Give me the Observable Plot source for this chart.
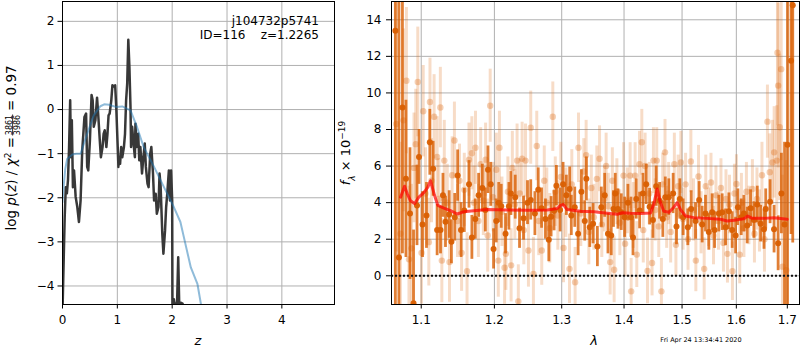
<!DOCTYPE html>
<html><head><meta charset="utf-8">
<script src="https://cdn.jsdelivr.net/npm/d3@7"></script>
<script src="https://cdn.jsdelivr.net/npm/@observablehq/plot@0.6"></script>
<style>
body{margin:0;background:#fff;}
#wrap{position:relative;width:800px;height:350px;overflow:hidden;background:#fff;}
#left,#right{position:absolute;top:0;}
#left{left:0;} #right{left:340px;}
</style></head><body>
<div id="wrap"><div id="left"></div><div id="right"></div></div>
<script>
// ---------------- left panel: p(z) ----------------
const zTicks = [0, 1, 2, 3, 4];
const logpTicks = [-4, -3, -2, -1, 0, 1, 2];
// dark jagged curve [z, log p]
const pzChi = [
[0.0,-4.6],[0.01,-4.03],[0.04,-2.44],[0.06,-1.76],[0.08,-1.9],[0.10,-1.6],[0.12,-0.85],[0.14,0.21],
[0.155,-1.08],[0.17,-0.24],[0.19,-1.76],[0.21,-1.38],[0.24,-1.98],[0.27,-2.21],[0.30,-2.55],[0.33,-2.06],
[0.36,-0.92],[0.38,-0.55],[0.40,-0.17],[0.43,-0.09],[0.45,-1.3],[0.47,-1.38],[0.50,-0.7],[0.53,0.33],
[0.55,0.21],[0.57,-0.39],[0.60,-0.24],[0.63,0.27],[0.65,-0.09],[0.68,-0.7],[0.70,-1.08],[0.73,-0.85],
[0.75,-0.55],[0.77,-0.47],[0.80,-0.85],[0.82,-0.55],[0.84,-0.13],[0.86,-0.09],[0.89,0.21],[0.91,0.55],
[0.94,0.52],[0.96,0.55],[0.98,0.06],[1.00,-0.62],[1.02,-1.3],[1.03,-1.08],[1.05,-1.23],[1.07,-0.85],
[1.09,-1.08],[1.12,-0.85],[1.14,-0.55],[1.16,0.21],[1.18,0.59],[1.20,1.58],[1.22,0.97],[1.24,0.06],
[1.25,-0.85],[1.27,-0.39],[1.29,-0.7],[1.32,-1.08],[1.33,-0.32],[1.35,-0.85],[1.38,-0.55],[1.40,-1.15],
[1.42,-0.85],[1.45,-1.45],[1.47,-1.15],[1.50,-0.77],[1.52,-1.3],[1.55,-1.68],[1.57,-1.76],[1.60,-1.0],
[1.62,-0.85],[1.65,-1.45],[1.67,-2.06],[1.70,-1.91],[1.72,-2.36],[1.75,-2.21],[1.77,-1.45],[1.79,-1.76],
[1.82,-2.82],[1.84,-3.27],[1.87,-2.74],[1.89,-2.21],[1.91,-1.91],[1.94,-1.38],[1.96,-2.06],[1.98,-1.38],
[2.00,-2.06],[2.005,-4.6],[2.03,-4.3],[2.06,-4.55],[2.09,-4.35],[2.11,-3.35],[2.13,-4.5],[2.16,-4.38],
[2.19,-4.4],[2.21,-4.7]
];
// smooth blue curve [z, log p]
const pzPrior = [
[0.0,-2.1],[0.02,-1.75],[0.05,-1.35],[0.085,-1.12],[0.18,-1.02],[0.25,-1.0],[0.33,-1.0],[0.45,-0.55],
[0.57,-0.13],[0.69,0.075],[0.76,0.12],[0.85,0.11],[0.97,0.06],[1.09,0.07],[1.24,-0.02],[1.36,-0.4],
[1.48,-0.85],[1.67,-1.3],[1.85,-1.76],[2.03,-2.21],[2.15,-2.55],[2.24,-3.04],[2.34,-3.58],[2.46,-3.95],[2.53,-4.45]
];
const objName = "j104732p5741";
const objLine = "ID=116    z=1.2265";
const chi2Num = "3861", chi2Den = "3986", chi2Val = "0.97";

// ---------------- right panel: spectrum ----------------
const lamTicks = [1.1, 1.2, 1.3, 1.4, 1.5, 1.6, 1.7];
const fluxTicks = [0, 2, 4, 6, 8, 10, 12, 14];
// strong points [lambda, flux, err]
const specMain = [
[1.0667,13.4,16],[1.0712,1.0,14],[1.0757,9.2,8],[1.0802,5.3,4.3],[1.0854,3.4,3.6],[1.0900,-1.5,4],
[1.0945,3.85,2.2],[1.0971,6.5,1.5],[1.1017,2.8,1.8],[1.1069,3.3,1.8],[1.1113,7.3,1.8],[1.1157,5.85,1.5],
[1.1210,2.5,1.4],[1.1255,2.5,1.3],[1.1288,4.4,1.2],[1.1322,2.95,1.4],[1.1372,3.35,1.3],[1.1402,1.86,1.2],
[1.1447,3.2,1.3],[1.1487,5.48,1.4],[1.1533,2.5,1.5],[1.1578,3.57,1.2],[1.1643,5.0,1.3],[1.1683,2.1,1.2],
[1.1731,3.1,1.1],[1.1777,4.4,1.2],[1.1829,4.8,1.3],[1.1871,3.6,1.2],[1.1909,5.8,1.3],[1.1948,5.0,1.2],
[1.1988,1.47,1.1],[1.2026,3.0,1.2],[1.2062,4.0,1.1],[1.2098,3.8,1.2],[1.2160,2.3,1.1],[1.2209,3.8,1.3],
[1.2238,4.5,1.2],[1.2301,4.3,1.2],[1.2364,2.6,1.1],[1.2423,3.15,1.2],[1.2482,4.0,1.2],[1.2530,4.15,1.1],
[1.2592,3.4,1.2],[1.2642,4.7,1.2],[1.2692,3.7,1.1],[1.2751,3.1,1.1],[1.2802,1.97,1.2],[1.2837,3.23,1.1],
[1.2883,3.56,1.1],[1.2918,4.93,1.1],[1.2975,3.6,1.2],[1.3021,5.0,1.2],[1.3072,4.4,1.1],[1.3124,4.75,1.2],
[1.3149,3.3,1.1],[1.3203,3.75,1.1],[1.3256,2.3,1.2],[1.3308,4.6,1.2],[1.3361,3.0,1.1],[1.3387,5.3,1.2],
[1.3441,2.65,1.1],[1.3494,2.85,1.1],[1.3563,1.6,1.1],[1.3627,3.75,1.1],[1.3682,4.4,1.2],[1.3735,2.3,1.1],
[1.3789,2.2,1.1],[1.3825,3.65,1.0],[1.3855,4.5,1.1],[1.3899,3.65,1.1],[1.3954,3.48,1.0],[1.4010,3.2,1.1],
[1.4065,4.0,1.0],[1.4116,3.2,1.1],[1.4150,2.1,1.0],[1.4205,4.2,1.1],[1.4262,3.57,1.0],[1.4318,4.5,1.1],
[1.4374,5.0,1.1],[1.4432,3.78,1.0],[1.4489,3.05,1.0],[1.4546,4.9,1.1],[1.4604,4.1,1.0],[1.4661,3.1,1.0],
[1.4704,4.3,1.1],[1.4766,4.3,1.0],[1.4842,4.5,1.1],[1.4901,2.7,1.0],[1.4960,4.2,1.1],[1.5019,3.2,1.0],
[1.5103,2.65,1.0],[1.5163,3.65,1.0],[1.5243,3.0,1.0],[1.5308,4.15,1.0],[1.5363,2.8,1.0],[1.5424,3.4,1.0],
[1.5485,2.4,1.0],[1.5546,3.48,1.0],[1.5591,2.5,1.0],[1.5671,3.4,1.0],[1.5733,3.48,1.0],[1.5796,2.65,1.0],
[1.5859,3.53,1.0],[1.5921,2.5,1.0],[1.5986,2.2,1.0],[1.6030,3.75,1.0],[1.6093,3.2,1.0],[1.6144,3.4,1.0],
[1.6208,2.75,1.0],[1.6273,3.7,1.0],[1.6338,3.05,1.0],[1.6403,3.9,1.0],[1.6469,2.85,1.0],[1.6535,2.55,1.1],
[1.6569,3.65,1.1],[1.6655,4.05,1.2],[1.6734,2.55,1.3],[1.6815,1.78,1.5],[1.6881,4.5,2.2],[1.6944,2.8,4.5],
[1.7004,7.17,9],[1.7076,11.76,9.5],[1.7110,14.8,13]
];
// faint points [lambda, flux, err]
const specFaint = [
[1.0679,8.3,7],[1.0731,2.3,5],[1.0770,8.5,5],[1.0808,10.67,4],[1.0841,0.9,4],[1.0873,1.5,3.5],
[1.0906,5.9,3],[1.0929,7.2,3],[1.0955,10.6,3],[1.1004,1.25,2.8],[1.1026,9.0,2.5],[1.1056,4.5,2.5],
[1.1100,1.84,2.4],[1.1115,9.5,2.4],[1.1135,5.2,2.3],[1.1170,8.7,2.3],[1.1210,6.5,2.2],[1.1233,4.2,2.2],
[1.1253,9.2,2.2],[1.1273,0.83,2.3],[1.1306,6.3,2.2],[1.1346,4.0,2.1],[1.1376,0.75,2.2],[1.1412,5.5,2.1],
[1.1443,7.4,2.1],[1.1485,3.0,2.0],[1.1512,5.2,2.0],[1.1541,1.25,2.1],[1.1578,4.7,2.0],[1.1616,0.25,2.1],
[1.1643,6.35,2.0],[1.1683,6.7,2.0],[1.1713,4.0,2.0],[1.1733,7.0,2.0],[1.1774,3.0,2.0],[1.1806,6.1,2.0],
[1.1843,4.1,1.9],[1.1875,6.35,2.0],[1.1905,2.2,2.0],[1.1940,9.3,2.0],[1.1981,4.3,1.9],[1.2027,5.8,2.0],
[1.2056,0.83,2.0],[1.2072,7.0,2.0],[1.2108,3.5,1.9],[1.2146,0.44,2.0],[1.2165,1.2,2.0],[1.2194,4.6,1.9],
[1.2241,0.57,2.0],[1.2259,5.9,2.0],[1.2295,3.9,1.9],[1.2328,6.3,2.0],[1.2346,-1.4,2.0],[1.2368,4.5,1.9],
[1.2402,6.4,2.0],[1.2427,2.5,1.9],[1.2452,6.3,2.0],[1.2496,1.38,2.0],[1.2530,8.1,2.0],[1.2570,0.1,2.0],
[1.2620,7.1,1.9],[1.2650,3.0,1.9],[1.2695,1.38,1.9],[1.2733,5.2,1.9],[1.2771,4.0,1.9],[1.2817,2.6,1.9],
[1.2863,8.7,1.9],[1.2901,4.6,1.9],[1.2940,3.3,1.9],[1.2986,5.4,1.9],[1.3028,1.52,1.9],[1.3064,4.0,1.9],
[1.3121,0.38,1.9],[1.3157,5.0,1.9],[1.3209,-0.35,1.9],[1.3262,7.0,1.9],[1.3298,3.4,1.8],[1.3346,5.7,1.8],
[1.3383,6.6,1.9],[1.3426,2.4,1.8],[1.3466,4.8,1.8],[1.3506,3.2,1.8],[1.3554,5.3,1.8],[1.3598,6.4,1.8],
[1.3635,2.8,1.8],[1.3676,4.2,1.8],[1.3705,6.0,1.8],[1.3741,3.8,1.8],[1.3771,0.75,1.8],[1.3807,5.2,1.8],
[1.3836,0.33,1.8],[1.3881,4.6,1.8],[1.3930,2.9,1.8],[1.3992,5.48,1.8],[1.4018,1.75,1.8],[1.4055,4.1,1.8],
[1.4102,5.48,1.8],[1.4119,-0.85,1.8],[1.4155,3.3,1.8],[1.4186,5.48,1.8],[1.4214,1.16,1.8],[1.4260,6.1,1.8],
[1.4299,7.3,1.8],[1.4324,2.5,1.8],[1.4355,6.0,1.8],[1.4396,0.27,1.8],[1.4426,4.5,1.7],[1.4474,0.7,1.8],
[1.4498,6.3,1.8],[1.4529,3.6,1.7],[1.4555,6.3,1.8],[1.4590,2.7,1.7],[1.4636,-0.85,1.8],[1.4659,5.0,1.7],
[1.4699,6.75,1.8],[1.4728,3.2,1.7],[1.4763,4.5,1.7],[1.4798,2.4,1.7],[1.4863,6.1,1.7],[1.4891,1.7,1.7],
[1.4930,4.9,1.7],[1.4979,6.2,1.7],[1.5018,3.1,1.7],[1.5063,5.0,1.7],[1.5107,2.0,1.7],[1.5158,6.25,1.7],
[1.5206,3.6,1.7],[1.5248,0.83,1.7],[1.5296,5.43,1.7],[1.5342,2.9,1.7],[1.5400,0.38,1.7],[1.5429,4.9,1.7],
[1.5479,3.2,1.6],[1.5525,5.1,1.6],[1.5571,2.2,1.6],[1.5617,4.4,1.6],[1.5664,3.0,1.6],[1.5710,4.8,1.6],
[1.5757,1.8,1.6],[1.5804,4.2,1.6],[1.5832,1.2,1.6],[1.5870,3.9,1.6],[1.5926,0.25,1.6],[1.5964,4.5,1.6],
[1.6002,5.02,1.6],[1.6065,1.16,1.6],[1.6097,4.0,1.6],[1.6145,2.6,1.6],[1.6193,4.6,1.6],[1.6241,3.3,1.6],
[1.6309,4.75,1.6],[1.6348,2.3,1.6],[1.6397,4.2,1.7],[1.6446,3.0,1.7],[1.6495,5.5,1.8],[1.6544,2.0,1.8],
[1.6603,8.43,2.0],[1.6649,5.66,2.1],[1.6702,6.2,2.3],[1.6736,6.75,2.5],[1.6788,6.3,3.0],[1.6802,12.2,4],
[1.6816,10.4,4.5],[1.6848,8.12,4],[1.6876,11.3,5],[1.6902,0.5,5],[1.6978,0.3,6]
];
// model curve [lambda, flux]
const specModel = [
[1.0733,4.3],[1.0784,4.9],[1.0818,4.5],[1.0861,4.1],[1.0913,3.95],[1.0969,4.3],[1.1034,4.55],[1.1087,4.85],
[1.1122,5.2],[1.1175,4.4],[1.1219,3.85],[1.1300,3.7],[1.1390,3.56],[1.1481,3.38],[1.1572,3.5],[1.1710,3.56],
[1.1898,3.62],[1.2184,3.6],[1.2478,3.58],[1.2778,3.6],[1.2931,3.68],[1.2982,3.85],[1.3023,3.9],[1.3085,3.62],
[1.3294,3.53],[1.3506,3.5],[1.3723,3.42],[1.3887,3.36],[1.3970,3.45],[1.4108,3.42],[1.4277,3.4],[1.4448,3.44],
[1.4505,3.92],[1.4564,4.75],[1.4609,4.1],[1.4678,3.53],[1.4766,3.47],[1.4854,3.75],[1.4914,4.0],[1.4973,3.62],
[1.5062,3.27],[1.5211,3.18],[1.5456,3.14],[1.5702,3.09],[1.5828,3.0],[1.5952,3.04],[1.6143,3.12],[1.6220,3.27],
[1.6305,3.14],[1.6532,3.14],[1.6729,3.18],[1.6998,3.09]
];
const stamp = "Fri Apr 24 13:34:41 2020";

// ---------------- drawing ----------------
const FONT = "DejaVu Sans, sans-serif";
const minus = d => (d < 0 ? "\u2212" : "") + Math.abs(d);
const gridStyle = {stroke: "#b0b0b0", strokeOpacity: 1, strokeWidth: 1};
const baseStyle = {fontFamily: FONT, fontSize: "12px", color: "black", background: "transparent", overflow: "visible"};

const leftSvg = Plot.plot({
  width: 340, height: 350,
  marginLeft: 62, marginRight: 6, marginTop: 1, marginBottom: 46,
  style: baseStyle,
  x: {domain: [0, 4.96], ticks: zTicks, tickFormat: minus, tickSize: 4.5, tickPadding: 6, label: null},
  y: {domain: [-4.42, 2.45], ticks: logpTicks, tickFormat: minus, tickSize: 4.5, tickPadding: 3.5, label: null},
  marks: [
    Plot.gridX(zTicks, gridStyle),
    Plot.gridY(logpTicks, gridStyle),
    Plot.line(pzChi, {x: d => d[0], y: d => d[1], stroke: "#383838", strokeWidth: 2.5, clip: true}),
    Plot.line(pzPrior, {x: d => d[0], y: d => d[1], stroke: "#1f77b4", strokeOpacity: 0.5, strokeWidth: 2, clip: true}),
    Plot.frame({stroke: "black", strokeWidth: 1})
  ]
});
document.getElementById("left").appendChild(leftSvg);

const ORANGE = "#d95f02";
const rightSvg = Plot.plot({
  width: 460, height: 350,
  marginLeft: 51, marginRight: 1, marginTop: 1, marginBottom: 46,
  style: baseStyle,
  x: {type: "log", domain: [1.0618, 1.7248], ticks: lamTicks, tickFormat: d => d.toFixed(1), tickSize: 4.5, tickPadding: 6, label: null},
  y: {domain: [-1.57, 15], ticks: fluxTicks, tickFormat: minus, tickSize: 5, tickPadding: 5, label: null},
  marks: [
    Plot.gridX(lamTicks, gridStyle),
    Plot.gridY(fluxTicks, gridStyle),
    Plot.ruleX(specFaint, {x: d => d[0], y1: d => d[1] - d[2], y2: d => d[1] + d[2], stroke: ORANGE, strokeOpacity: 0.22, strokeWidth: 3, clip: true}),
    Plot.dot(specFaint, {x: d => d[0], y: d => d[1], r: 3.2, fill: ORANGE, fillOpacity: 0.3, stroke: "none", clip: true}),
    Plot.ruleX(specMain, {x: d => d[0], y1: d => d[1] - d[2], y2: d => d[1] + d[2], stroke: ORANGE, strokeOpacity: 0.8, strokeWidth: 2.8, clip: true}),
    Plot.dot(specMain, {x: d => d[0], y: d => d[1], r: 3, fill: ORANGE, fillOpacity: 0.95, stroke: "none", clip: true}),
    Plot.ruleY([0], {stroke: "#111", strokeWidth: 2, strokeDasharray: "2,2"}),
    Plot.line(specModel, {x: d => d[0], y: d => d[1], stroke: "red", strokeOpacity: 0.7, strokeWidth: 3, clip: true}),
    Plot.frame({stroke: "black", strokeWidth: 1})
  ]
});
document.getElementById("right").appendChild(rightSvg);

// ----- annotations and axis labels (real text) -----
const L = d3.select(leftSvg);
L.append("text").attr("x", 319).attr("y", 24.5).attr("text-anchor", "end")
  .attr("font-family", FONT).attr("font-size", 12).attr("fill", "black").text(objName);
L.append("text").attr("x", 319).attr("y", 38.5).attr("text-anchor", "end")
  .attr("font-family", FONT).attr("font-size", 12).attr("fill", "black")
  .style("white-space", "pre").text(objLine);
L.append("text").attr("x", 198).attr("y", 345).attr("text-anchor", "middle")
  .attr("font-family", FONT).attr("font-size", 13).attr("font-style", "italic").attr("fill", "black").text("z");

// left y label: log p(z) / χ² = 3861/3986 = 0.97  (rotated; origin at its lower end)
{
  const g = L.append("g").attr("font-family", FONT).attr("fill", "black")
    .attr("transform", "translate(16,240) rotate(-90)");
  const t1 = g.append("text").attr("font-size", 13.5).attr("x", 103).attr("y", 0).attr("text-anchor", "end");
  t1.append("tspan").text("log\u00a0");
  t1.append("tspan").attr("font-style", "italic").text("p");
  t1.append("tspan").text("(");
  t1.append("tspan").attr("font-style", "italic").text("z");
  t1.append("tspan").text(")\u00a0/\u00a0");
  t1.append("tspan").attr("font-style", "italic").text("\u03c7");
  t1.append("tspan").attr("font-size", 9).attr("baseline-shift", "super").text("2");
  t1.append("tspan").text("\u00a0=");
  g.append("text").attr("font-size", 8).attr("text-anchor", "middle").attr("x", 115).attr("y", -4.3).text(chi2Num);
  g.append("text").attr("font-size", 8).attr("text-anchor", "middle").attr("x", 115).attr("y", 4.0).text(chi2Den);
  g.append("line").attr("x1", 104.5).attr("x2", 125.5).attr("y1", -3.4).attr("y2", -3.4)
    .attr("stroke", "black").attr("stroke-width", 0.8);
  g.append("text").attr("font-size", 13.5).attr("x", 129).attr("y", 0).attr("text-anchor", "start")
    .text("=\u00a0" + chi2Val);
}

const R = d3.select(rightSvg);
R.append("text").attr("x", 254).attr("y", 345).attr("text-anchor", "middle")
  .attr("font-family", FONT).attr("font-size", 13).attr("font-style", "italic").attr("fill", "black").text("\u03bb");
R.append("text").attr("x", 361).attr("y", 342).attr("font-family", FONT).attr("font-size", 6.5).attr("fill", "black").text(stamp);
{
  const g = R.append("g").attr("font-family", FONT).attr("fill", "black")
    .attr("transform", "translate(9.5,153) rotate(-90)");
  const t = g.append("text").attr("font-size", 13).attr("x", 0).attr("y", 0).attr("text-anchor", "middle");
  t.append("tspan").attr("font-style", "italic").text("f");
  t.append("tspan").attr("font-style", "italic").attr("font-size", 9).attr("baseline-shift", "sub").text("\u03bb");
  t.append("tspan").text("\u00a0\u00d7\u00a010");
  t.append("tspan").attr("font-size", 9).attr("baseline-shift", "super").text("\u221219");
}
</script>
</body></html>
